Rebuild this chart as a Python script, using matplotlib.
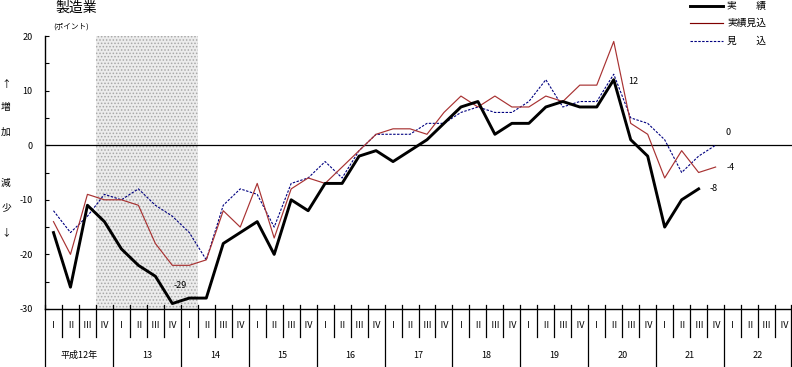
import matplotlib
matplotlib.use("Agg")
import matplotlib.pyplot as plt
import numpy as np

plt.rcParams['font.family'] = ['Noto Sans CJK JP', 'DejaVu Sans']
plt.rcParams['axes.unicode_minus'] = False
plt.rcParams['hatch.linewidth'] = 0.7

# data (quarterly, from 平成12年 I)
years = ["平成12年", "13", "14", "15", "16", "17", "18", "19", "20", "21", "22"]
quarters = ["Ⅰ", "Ⅱ", "Ⅲ", "Ⅳ"]
jisseki = [-16, -26, -11, -14, -19, -22, -24, -29, -28, -28, -18, -16, -14, -20, -10, -12,
           -7, -7, -2, -1, -3, -1, 1, 4, 7, 8, 2, 4, 4, 7, 8, 7, 7, 12, 1, -2, -15, -10, -8]
jisseki_mikomi = [-14, -20, -9, -10, -10, -11, -18, -22, -22, -21, -12, -15, -7, -17, -8, -6,
                  -7, -4, -1, 2, 3, 3, 2, 6, 9, 7, 9, 7, 7, 9, 8, 11, 11, 19, 4, 2, -6, -1, -5, -4]
mikomi = [-12, -16, -13, -9, -10, -8, -11, -13, -16, -21, -11, -8, -9, -15, -7, -6,
          -3, -6, -1, 2, 2, 2, 4, 4, 6, 7, 6, 6, 8, 12, 7, 8, 8, 13, 5, 4, 1, -5, -2, 0]
recession = (3, 9)  # 平成12年IV - 14年I

W, H = 792, 367
fig = plt.figure(figsize=(W / 100, H / 100), dpi=100)
ax = fig.add_axes([45 / W, 58 / H, 747 / W, 273 / H])

nq = len(years) * 4
ax.set_xlim(0, nq)
ax.set_ylim(-30, 20)

ax.axvspan(recession[0], recession[1], facecolor='#ececec', hatch='.....',
           edgecolor='#a8a8a8', linewidth=0, zorder=0)
ax.axhline(0, color='black', lw=0.9, zorder=1)

x1 = np.arange(len(jisseki)) + 0.5
x2 = np.arange(len(jisseki_mikomi)) + 0.5
x3 = np.arange(len(mikomi)) + 0.5
ax.plot(x3, mikomi, color='#000080', lw=0.8, dashes=(2.2, 1.3), zorder=2)
ax.plot(x2, jisseki_mikomi, color='#a83232', lw=0.85, zorder=3)
ax.plot(x1, jisseki, color='black', lw=2.1, zorder=4)

# y axis
ax.set_yticks([-30, -20, -10, 0, 10, 20])
ax.set_yticks([-25, -15, -5, 5, 15], minor=True)
ax.tick_params(axis='y', which='both', direction='in', length=3, width=0.8, pad=9,
               labelsize=6.5)
ax.set_xticks([])
for s in ['top', 'right']:
    ax.spines[s].set_visible(False)
ax.spines['left'].set_linewidth(1)
ax.spines['bottom'].set_linewidth(1)

# quarter / year rows under the axis
tr = ax.get_xaxis_transform()
qrow = -28 / 273
yrow = -58 / 273
for k in range(nq + 1):
    xk = min(k, nq - 0.03)
    bottom = yrow if k % 4 == 0 else qrow
    ax.plot([xk, xk], [4 / 273, bottom], transform=tr, color='black', lw=0.9,
            clip_on=False)
for i in range(nq):
    ax.text(i + 0.5, -16 / 273, quarters[i % 4], transform=tr, ha='center',
            va='center', fontsize=6.5, clip_on=False)
for j, yl in enumerate(years):
    ax.text(j * 4 + 2, -46 / 273, yl, transform=tr, ha='center', va='center',
            fontsize=6.5, clip_on=False)

# value labels
ax.annotate("12", (x1[33], jisseki[33]), xytext=(14, -1.5), textcoords='offset points',
            ha='center', va='center', fontsize=6.5)
ax.annotate("-8", (x1[38], jisseki[38]), xytext=(10.5, 0), textcoords='offset points',
            ha='center', va='center', fontsize=6.5)
ax.annotate("-29", (x1[7], jisseki[7]), xytext=(6, 13), textcoords='offset points',
            ha='center', va='center', fontsize=6.5)
ax.annotate("0", (x3[39], mikomi[39]), xytext=(9, 9.5), textcoords='offset points',
            ha='center', va='center', fontsize=6.5)
ax.annotate("-4", (x2[39], jisseki_mikomi[39]), xytext=(11, 0), textcoords='offset points',
            ha='center', va='center', fontsize=6.5)

# titles
fig.text(55 / W, 1 - 8 / H, "製造業", fontsize=10, ha='left', va='center')
fig.text(53 / W, 1 - 27 / H, "(ポイント)", fontsize=5.5, ha='left', va='center')
for ch, yp in [("↑", 84), ("増", 107), ("加", 132), ("減", 183), ("少", 207), ("↓", 232)]:
    fig.text(6 / W, 1 - yp / H, ch, fontsize=7, ha='center', va='center')

# legend
leg = [("実\u3000\u3000績", 6, dict(color='black', lw=2.1)),
       ("実績見込", 23, dict(color='#800000', lw=0.85)),
       ("見\u3000\u3000込", 41, dict(color='#000080', lw=0.8, dashes=(2.2, 1.3)))]
for label, yp, kw in leg:
    fig.add_artist(plt.Line2D([690 / W, 723 / W], [1 - yp / H, 1 - yp / H], **kw))
    fig.text(727 / W, 1 - yp / H, label, fontsize=7, ha='left', va='center')

fig.savefig("out.png", dpi=100)
